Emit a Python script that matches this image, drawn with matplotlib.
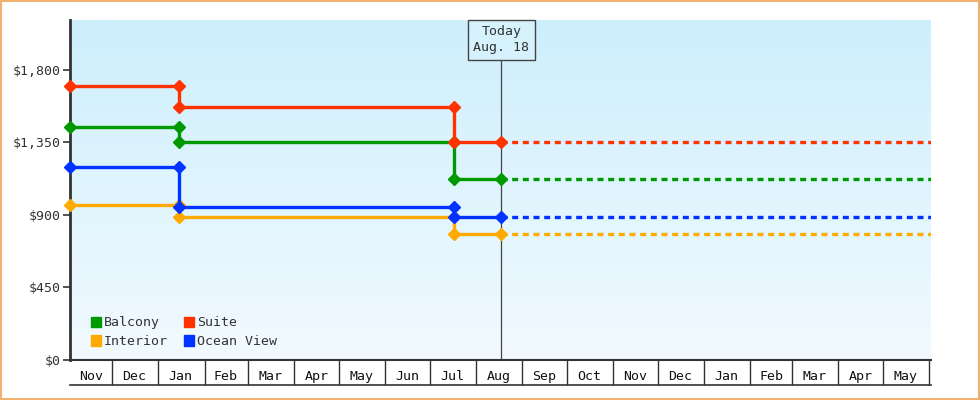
import matplotlib
matplotlib.use("Agg")
import matplotlib.pyplot as plt
from matplotlib.patches import Patch, Rectangle
from matplotlib.colors import LinearSegmentedColormap
import numpy as np
import datetime as dt

D = dt.date
start, end, today = D(2023, 11, 3), D(2025, 6, 2), D(2024, 8, 18)
change_dates = [D(2023, 11, 3), D(2024, 1, 15), D(2024, 7, 17)]
series = {
    "Balcony": [1445, 1350, 1125],
    "Interior": [965, 885, 780],
    "Suite": [1700, 1570, 1350],
    "Ocean View": [1195, 950, 885],
}
colors = {"Balcony": "#009900", "Interior": "#ffaa00", "Suite": "#ff3300", "Ocean View": "#0033ff"}
yticks = [0, 450, 900, 1350, 1800]
ytick_labels = ["$0", "$450", "$900", "$1,350", "$1,800"]

plt.rcParams["font.family"] = ["DejaVu Sans Mono"]
fig = plt.figure(figsize=(9.8, 4.0), dpi=100)
fig.patches.append(Rectangle((0.001, 0.002), 0.998, 0.996, transform=fig.transFigure,
                             fill=False, ec="#f0b070", lw=1.5))
L, R, T, B = 70.4 / 980, 930.7 / 980, 1 - 20 / 400, 1 - 360 / 400
ax = fig.add_axes([L, B, R - L, T - B])
ymax = 2110
ax.set_xlim(start, end)
ax.set_ylim(0, ymax)
grad = np.linspace(0, 1, 256).reshape(-1, 1)
cm = LinearSegmentedColormap.from_list("g", ["#f2faff", "#cdeffc"])
ax.imshow(grad, extent=[0, 1, 0, 1], transform=ax.transAxes, cmap=cm, origin="lower",
          aspect="auto", zorder=0)

for name, vals in series.items():
    c = colors[name]
    xs, ys = [], []
    for i, v in enumerate(vals):
        d0 = change_dates[i]
        d1 = change_dates[i + 1] if i + 1 < len(change_dates) else today
        xs += [d0, d1]
        ys += [v, v]
    ax.plot(xs, ys, color=c, lw=2.4, marker="D", ms=6.5, zorder=3, clip_on=False)
    ax.plot([today, end], [vals[-1], vals[-1]], color=c, lw=2.4, ls=(0, (1.8, 1.4)), zorder=3)

# today line and box
ax.plot([today, today], [0, 1862], color="#444444", lw=0.9, zorder=2)
ax.text(today, 1988, "Today\nAug. 18", ha="center", va="center", fontsize=9.5, color="#333333",
        linespacing=1.35, zorder=4,
        bbox=dict(boxstyle="square,pad=0.4", fc="#d6f2fc", ec="#444444", lw=1))

for s in ["top", "right"]:
    ax.spines[s].set_visible(False)
ax.spines["left"].set_linewidth(2)
ax.spines["left"].set_color("#333333")
ax.spines["bottom"].set_linewidth(1.5)
ax.spines["bottom"].set_color("#333333")
ax.set_yticks(yticks)
ax.set_yticklabels(ytick_labels, fontsize=9.5, color="#333333")
ax.tick_params(axis="y", length=5, width=1.2, color="#333333", pad=2)

month_starts = []
y, m = 2023, 12
while D(y, m, 1) <= end:
    month_starts.append(D(y, m, 1))
    m += 1
    if m > 12:
        m, y = 1, y + 1
bounds = [start] + month_starts + [end]
centers = [bounds[i] + (bounds[i + 1] - bounds[i]) / 2 for i in range(len(bounds) - 1)][:19]
labels = [b.strftime("%b") for b in bounds[:-1]][:19]
ax.set_xticks(centers)
ax.set_xticklabels(labels, fontsize=9.5, color="#111111")
ax.tick_params(axis="x", which="major", length=0, pad=7)
ax.set_xticks(month_starts, minor=True)
ax.tick_params(axis="x", which="minor", length=18, width=1, color="#333333", direction="out")
ax.plot([0, 1.0], [-25 / 340, -25 / 340], transform=ax.transAxes, color="#333333", lw=1.2, clip_on=False)

handles = [Patch(color=colors[n], label=n) for n in ["Balcony", "Interior", "Suite", "Ocean View"]]
ax.legend(handles=handles, ncol=2, loc="lower left", bbox_to_anchor=(0.01, 0.0), frameon=False,
          fontsize=9.5, handlelength=0.8, handleheight=0.8, handletextpad=0.2, columnspacing=1.2,
          labelspacing=0.45, labelcolor="#333333")

fig.savefig("out.png", dpi=100)
